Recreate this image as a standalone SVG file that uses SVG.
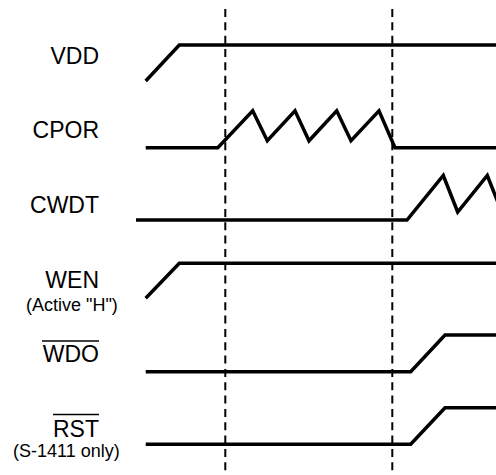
<svg xmlns="http://www.w3.org/2000/svg" width="496" height="475" viewBox="0 0 496 475">
  <style>
    .bg { fill: #ffffff; }
    .lbl { font-family: "Liberation Sans", Arial, sans-serif; font-size: 23px; fill: #000; text-anchor: end; }
    .sub { font-family: "Liberation Sans", Arial, sans-serif; font-size: 18px; fill: #000; }
    .wave { fill: none; stroke: #000; stroke-width: 3.5; stroke-linejoin: miter; stroke-linecap: butt; }
    .bar { stroke: #000; stroke-width: 1.6; }
    .guide { fill: none; stroke: #000; stroke-width: 2; stroke-dasharray: 8 5.33; }
  </style>
  <rect class="bg" x="0" y="0" width="496" height="475"/>

  <g id="guides">
    <line class="guide" x1="225.3" y1="9" x2="225.3" y2="475"/>
    <line class="guide" x1="392.3" y1="9" x2="392.3" y2="475"/>
  </g>

  <g id="VDD">
    <text class="lbl" x="99" y="64">VDD</text>
    <path class="wave" d="M145.7,81 L179.3,45 L497,45"/>
  </g>

  <g id="CPOR">
    <text class="lbl" x="99" y="138">CPOR</text>
    <path class="wave" d="M145.7,147.7 L217.8,147.7 L252.7,110.8 L267.3,140.8 L295,110.8 L309,140.8 L336.7,110.8 L351,140.8 L379,110.8 L395,147.7 L497,147.7"/>
  </g>

  <g id="CWDT">
    <text class="lbl" x="99" y="213">CWDT</text>
    <path class="wave" d="M136,220 L407,220 L443.3,175.5 L457.7,212 L487.3,175.5 L501.7,212"/>
  </g>

  <g id="WEN">
    <text class="lbl" x="99" y="288">WEN</text>
    <text class="sub" x="26" y="311">(Active "H")</text>
    <path class="wave" d="M145.7,298.3 L179.3,263.3 L497,263.3"/>
  </g>

  <g id="WDO">
    <text class="lbl" x="99" y="362">WDO</text>
    <line class="bar" x1="42" y1="341" x2="99" y2="341"/>
    <path class="wave" d="M145.7,371.7 L410.7,371.7 L445,335 L497,335"/>
  </g>

  <g id="RST">
    <text class="lbl" x="99" y="437">RST</text>
    <line class="bar" x1="53" y1="414.5" x2="99" y2="414.5"/>
    <text class="sub" x="13" y="457">(S-1411 only)</text>
    <path class="wave" d="M145.7,444.3 L410.7,444.3 L445,407.7 L497,407.7"/>
  </g>
</svg>
